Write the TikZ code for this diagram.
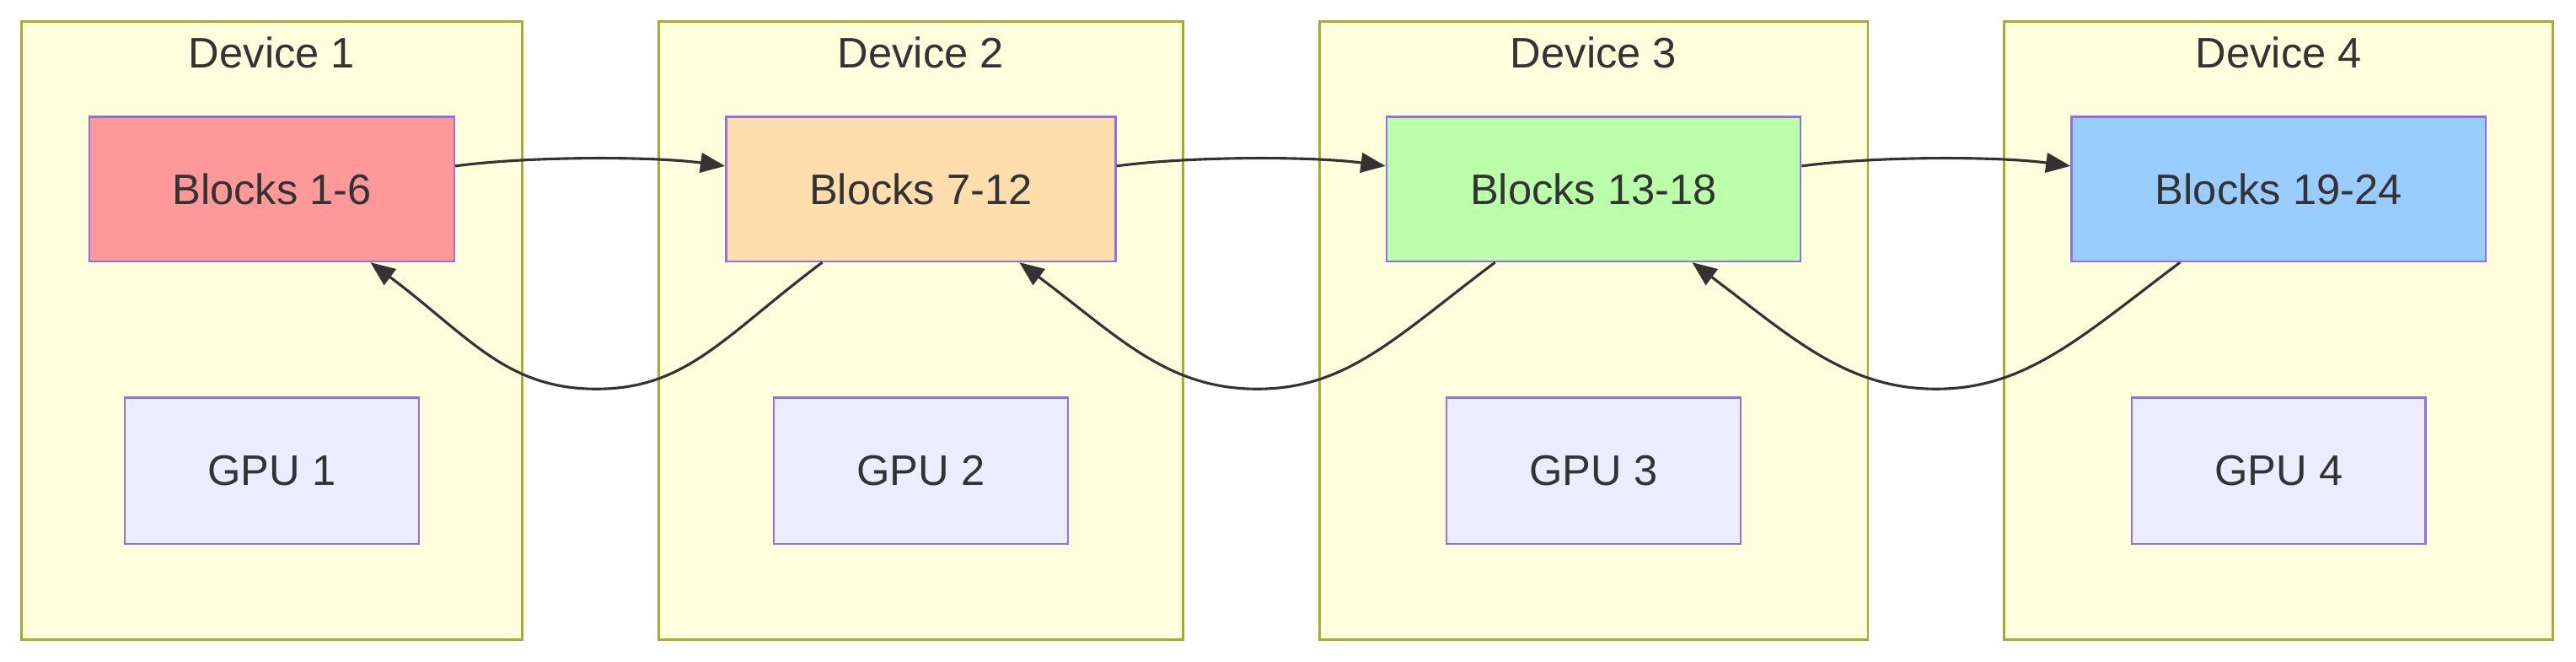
\documentclass[tikz,border=0pt]{standalone}
\usepackage{fontspec}
\setmainfont{Liberation Sans}
\usetikzlibrary{calc}
\usetikzlibrary{arrows.meta}
\usepackage{xcolor}
\definecolor{devfill}{HTML}{FFFFDE}
\definecolor{devline}{HTML}{AAAA33}
\definecolor{boxline}{HTML}{9370DB}
\definecolor{gpufill}{HTML}{ECECFF}
\definecolor{ink}{HTML}{333333}
\definecolor{blkA}{HTML}{FF9999}
\definecolor{blkB}{HTML}{FFDEAD}
\definecolor{blkC}{HTML}{BBFFAA}
\definecolor{blkD}{HTML}{99CCFF}
\tikzset{
 device/.style={draw=devline, fill=devfill, line width=1.5pt, minimum height=376pt, inner sep=0},
 block/.style={draw=boxline, line width=1.3pt, minimum height=88pt, inner sep=0},
 gpu/.style={draw=boxline, fill=gpufill, line width=1.3pt, minimum width=179pt, minimum height=89pt, inner sep=0},
 flow/.style={ink, line width=1.6pt, ->, >={Triangle[length=15pt,width=12pt]}}
}

\begin{document}
\begin{tikzpicture} [x=1pt, y=-1pt, font=\fontsize{26}{31}\selectfont, text=ink]
\useasboundingbox (0,0) rectangle (1568,402.3);
\foreach \i/\x/\dw/\bw/\from/\to/\col in {1/165.5/305/222/1/6/blkA, 2/560.5/319/237/7/12/blkB, 3/970/334/252/13/18/blkC, 4/1387/334/252/19/24/blkD} {
 \node[device, minimum width=\dw pt] (dev\i) at (\x,201) {};
 \node (devlabel\i) at (\x,32) {Device \i};
 \node[block, fill=\col, minimum width=\bw pt] (blk\i) at (\x,115) {Blocks \from-\to};
 \node[gpu] (gpu\i) at (\x,286.5) {GPU \i};
}
\foreach \a/\b in {1/2, 2/3, 3/4} {
 \draw[flow] ($(blk\a.east)+(0,-14)$) .. controls +(45,-6) and +(-45,-6) .. ($(blk\b.west)+(0,-14)$);
 \draw[flow] ($(blk\b.south)+(-60,0)$) .. controls +(-60,45) and +(55,0) .. ($(blk\a.south)!.5!(blk\b.south)+(0,77)$)
   .. controls +(-55,0) and +(60,45) .. ($(blk\a.south)+(60,0)$);
}
\end{tikzpicture}
\end{document}
